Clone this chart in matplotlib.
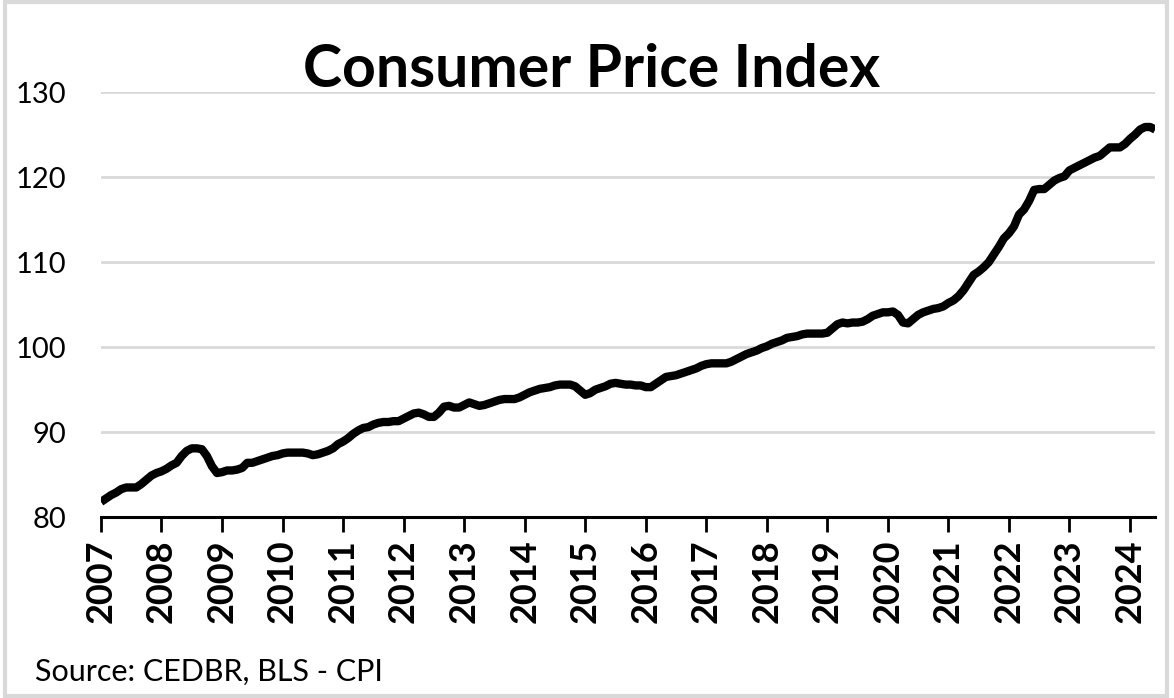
import numpy as np
import matplotlib
matplotlib.use("Agg")
import matplotlib.pyplot as plt
from matplotlib.patches import Rectangle

# monthly index values, Jan 2007 - Jun 2024
cpi_2007 = [81.8, 82.2, 82.6, 82.9, 83.3, 83.5, 83.5, 83.5, 83.9, 84.4, 84.9, 85.2]
cpi_2008 = [85.4, 85.7, 86.1, 86.4, 87.2, 87.8, 88.1, 88.1, 88.0, 87.2, 86.0, 85.2]
cpi_2009 = [85.3, 85.5, 85.5, 85.6, 85.8, 86.4, 86.4, 86.6, 86.8, 87.0, 87.2, 87.3]
cpi_2010 = [87.5, 87.6, 87.6, 87.6, 87.6, 87.5, 87.3, 87.4, 87.6, 87.8, 88.1, 88.6]
cpi_2011 = [88.9, 89.3, 89.8, 90.2, 90.5, 90.6, 90.9, 91.1, 91.2, 91.2, 91.3, 91.3]
cpi_2012 = [91.6, 91.9, 92.2, 92.3, 92.1, 91.8, 91.8, 92.3, 93.0, 93.1, 92.9, 92.9]
cpi_2013 = [93.2, 93.5, 93.3, 93.1, 93.2, 93.4, 93.6, 93.8, 93.9, 93.9, 93.9, 94.1]
cpi_2014 = [94.4, 94.7, 94.9, 95.1, 95.2, 95.3, 95.5, 95.6, 95.6, 95.6, 95.4, 94.9]
cpi_2015 = [94.4, 94.6, 95.0, 95.2, 95.4, 95.7, 95.8, 95.7, 95.6, 95.6, 95.5, 95.5]
cpi_2016 = [95.3, 95.3, 95.7, 96.1, 96.5, 96.6, 96.7, 96.9, 97.1, 97.3, 97.5, 97.8]
cpi_2017 = [98.0, 98.1, 98.1, 98.1, 98.1, 98.3, 98.6, 98.9, 99.2, 99.4, 99.6, 99.9]
cpi_2018 = [100.1, 100.4, 100.6, 100.8, 101.1, 101.2, 101.3, 101.5, 101.6, 101.6, 101.6, 101.6]
cpi_2019 = [101.7, 102.2, 102.7, 102.9, 102.8, 102.9, 102.9, 103.0, 103.3, 103.7, 103.9, 104.1]
cpi_2020 = [104.1, 104.2, 103.8, 102.9, 102.8, 103.3, 103.8, 104.1, 104.3, 104.5, 104.6, 104.8]
cpi_2021 = [105.2, 105.5, 106.0, 106.7, 107.6, 108.5, 108.9, 109.4, 110.0, 110.9, 111.8, 112.8]
cpi_2022 = [113.4, 114.2, 115.6, 116.2, 117.2, 118.5, 118.6, 118.6, 119.1, 119.6, 119.9, 120.1]
cpi_2023 = [120.8, 121.1, 121.4, 121.7, 122.0, 122.3, 122.5, 123.0, 123.5, 123.5, 123.5, 123.9]
cpi_2024 = [124.5, 125.0, 125.6, 125.9, 125.9, 125.6]

years = [str(y) for y in range(2007, 2025)]
y_ticks = [80, 90, 100, 110, 120, 130]

cpi = (cpi_2007 + cpi_2008 + cpi_2009 + cpi_2010 + cpi_2011 + cpi_2012
       + cpi_2013 + cpi_2014 + cpi_2015 + cpi_2016 + cpi_2017 + cpi_2018
       + cpi_2019 + cpi_2020 + cpi_2021 + cpi_2022 + cpi_2023 + cpi_2024)
months = np.arange(len(cpi))

plt.rcParams['font.family'] = ['Lato', 'DejaVu Sans']

fig = plt.figure(figsize=(11.74, 6.98), dpi=100)
ax = fig.add_axes([0.086, 0.259, 0.898, 0.609])

ax.plot(months, cpi, color='black', linewidth=6, solid_joinstyle='round',
        solid_capstyle='butt', zorder=3)

ax.set_xlim(0, len(cpi) - 1)
ax.set_ylim(80, 130)
ax.set_yticks(y_ticks)
ax.set_xticks(np.arange(0, len(cpi), 12))
ax.set_xticklabels(years, rotation=90, fontweight='bold', fontsize=26)
ax.tick_params(axis='x', length=11, width=2, color='black', pad=5)
ax.tick_params(axis='y', length=0, labelsize=21, pad=25)

ax.grid(axis='y', color='#d9d9d9', linewidth=2)
ax.set_axisbelow(True)
for side in ['left', 'right', 'top']:
    ax.spines[side].set_visible(False)
ax.spines['bottom'].set_linewidth(2.2)
ax.spines['bottom'].set_zorder(4)

fig.text(0.504, 0.9, 'Consumer Price Index', ha='center', va='center',
         fontsize=42.5, fontweight='bold')
fig.text(0.03, 0.037, 'Source: CEDBR, BLS - CPI', ha='left', va='center',
         fontsize=22)

# light grey frame around the chart area
fig.patches.append(Rectangle((0.004, 0.003), 0.99, 0.994, transform=fig.transFigure,
                             fill=False, edgecolor='#d9d9d9', linewidth=3))

fig.savefig('out.png', dpi=100)
